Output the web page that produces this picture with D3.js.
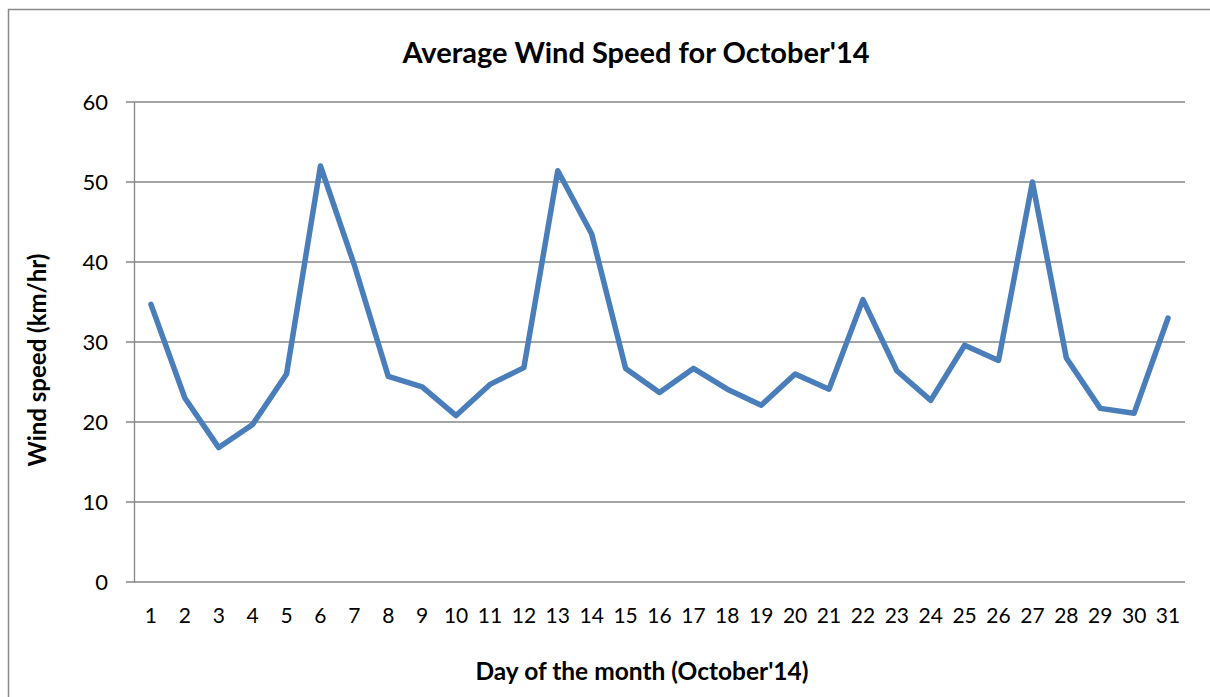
<!DOCTYPE html>
<html>
<head>
<meta charset="utf-8">
<script src="https://cdn.jsdelivr.net/npm/d3@7"></script>
<style>
  body { margin: 0; background: #fff; }
  text { font-family: Lato, "Open Sans", sans-serif; fill: #000; }
</style>
</head>
<body>
<div id="chart"></div>
<script>
// days of the month and average wind speed (km/hr)
var days = d3.range(1, 32).map(String);
var windSpeed = [34.7, 23.0, 16.8, 19.7, 26.0, 52.0, 39.6, 25.7, 24.4, 20.8,
                 24.7, 26.8, 51.4, 43.5, 26.7, 23.7, 26.7, 24.1, 22.1, 26.0,
                 24.1, 35.3, 26.4, 22.7, 29.6, 27.7, 50.0, 28.0, 21.7, 21.1, 33.0];
var yTicks = [0, 10, 20, 30, 40, 50, 60];

var width = 1210, height = 697;
var margin = {left: 134, right: 25, top: 102, bottom: 115};

var svg = d3.select("#chart")
    .append("svg")
    .attr("width", width)
    .attr("height", height);

// outer chart border (only left and top visible)
svg.append("path")
    .attr("d", "M8.5,697 V9.5 H1210")
    .attr("fill", "none")
    .attr("stroke", "#888")
    .attr("stroke-width", 1.5);

var xScale = d3.scaleBand()
    .domain(days)
    .range([margin.left, width - margin.right]);

var yScale = d3.scaleLinear()
    .domain([0, 60])
    .range([height - margin.bottom, margin.top]);

/* gridlines */
svg.append("g")
    .selectAll("line")
    .data(yTicks)
    .join("line")
    .attr("x1", margin.left - 8)
    .attr("x2", width - margin.right)
    .attr("y1", d => yScale(d))
    .attr("y2", d => yScale(d))
    .attr("stroke", "#868686")
    .attr("stroke-width", 1.3);

/* y axis */
var yAxis = d3.axisLeft(yScale)
    .tickValues(yTicks)
    .tickSize(0)
    .tickPadding(26);
var gy = svg.append("g")
    .attr("transform", `translate(${margin.left},0)`)
    .call(yAxis);
gy.select(".domain").attr("stroke", "#868686").attr("stroke-width", 1.3);
gy.selectAll("text")
    .style("font-size", "22px")
    .style("font-family", "Lato, sans-serif");

/* x axis */
var xAxis = d3.axisBottom(xScale)
    .tickSize(0)
    .tickPadding(26);
var gx = svg.append("g")
    .attr("transform", `translate(0,${height - margin.bottom})`)
    .call(xAxis);
gx.select(".domain").remove();
gx.selectAll("text")
    .style("font-size", "21px")
    .style("font-family", "Lato, sans-serif");

/* line */
var line = d3.line()
    .x((d, i) => xScale(days[i]) + xScale.bandwidth() / 2)
    .y(d => yScale(d));

svg.append("path")
    .datum(windSpeed)
    .attr("d", line)
    .attr("fill", "none")
    .attr("stroke", "#4a7ebb")
    .attr("stroke-width", 5.5)
    .attr("stroke-linejoin", "round")
    .attr("stroke-linecap", "round");

/* titles */
svg.append("text")
    .attr("x", 636)
    .attr("y", 63)
    .attr("text-anchor", "middle")
    .style("font-size", "29px")
    .style("font-weight", "bold")
    .text("Average Wind Speed for October'14");

svg.append("text")
    .attr("x", 642)
    .attr("y", 680)
    .attr("text-anchor", "middle")
    .style("font-size", "24.5px")
    .style("font-weight", "bold")
    .text("Day of the month (October'14)");

svg.append("text")
    .attr("transform", "translate(46,360) rotate(-90)")
    .attr("text-anchor", "middle")
    .style("font-size", "24px")
    .style("font-weight", "bold")
    .text("Wind speed (km/hr)");
</script>
</body>
</html>
